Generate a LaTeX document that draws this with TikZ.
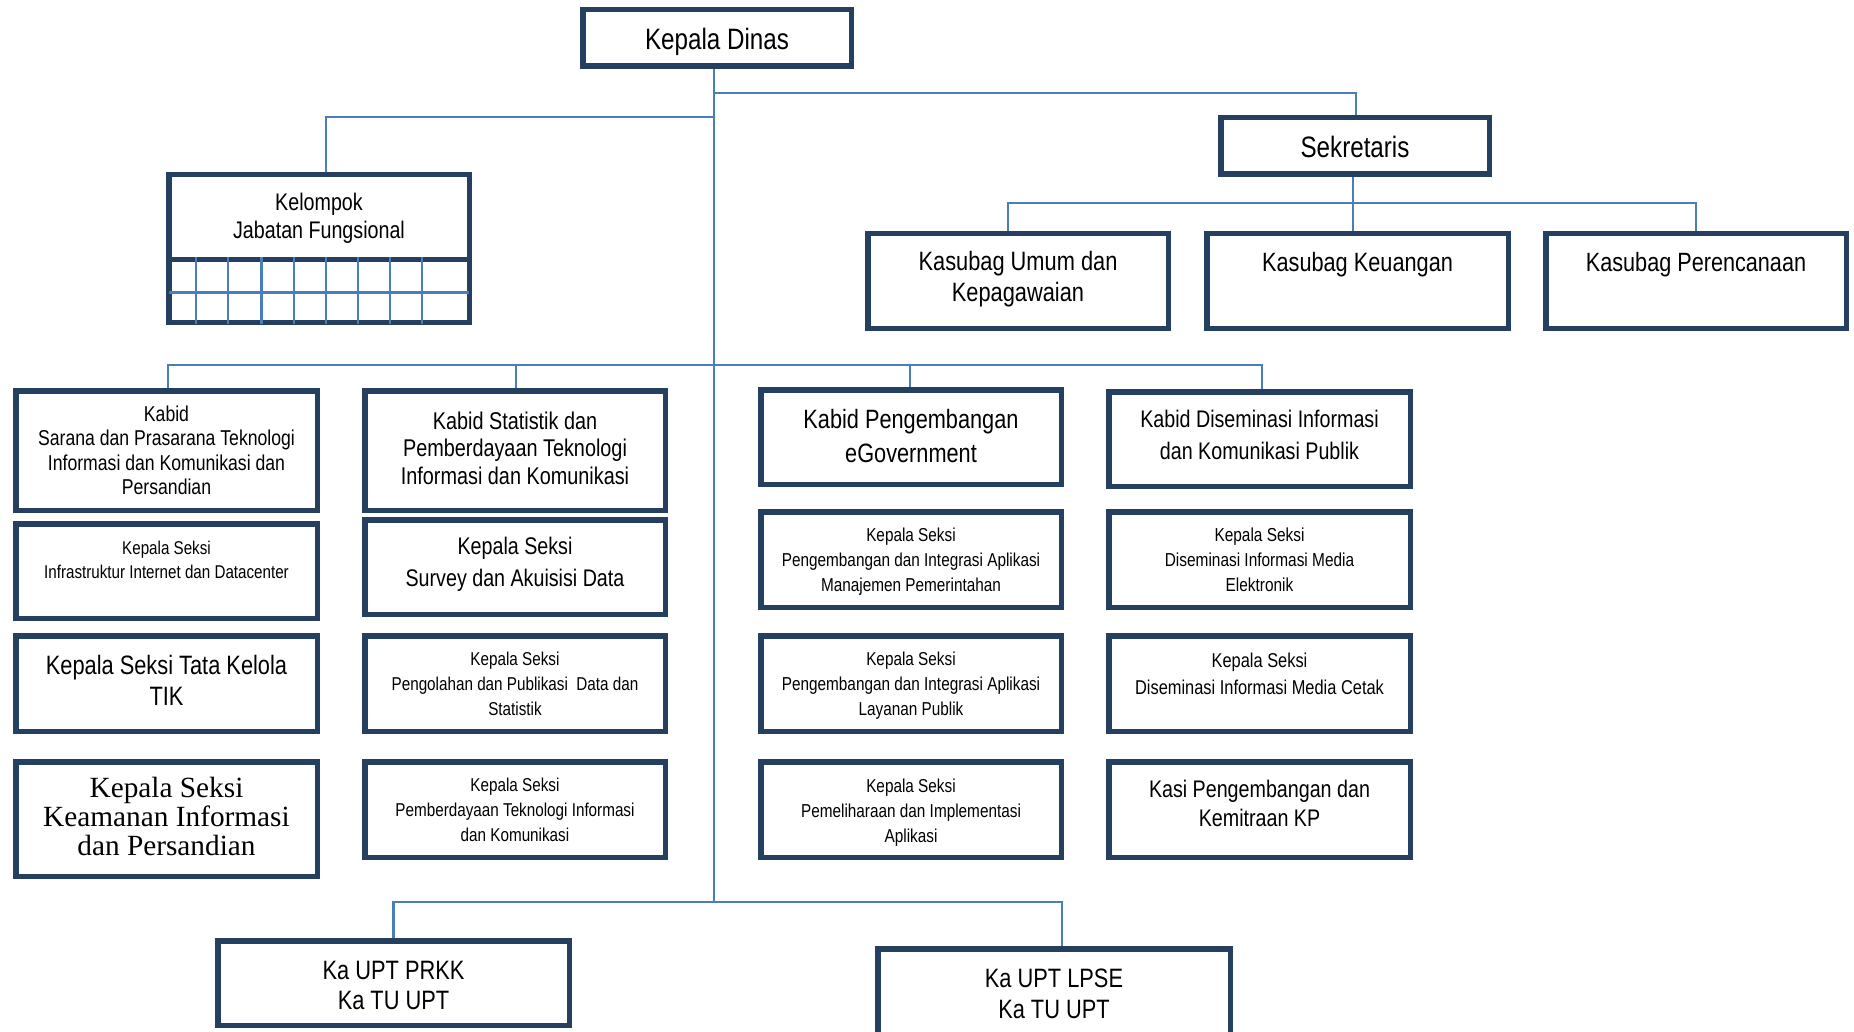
\documentclass[tikz,border=0pt]{standalone}
\usepackage{fontspec}
\setmainfont[FakeStretch=0.82]{Liberation Sans}
\newfontfamily\serifk{Liberation Serif}
\definecolor{boxc}{HTML}{243F60}
\definecolor{linec}{HTML}{4A7EBB}
\newcommand\fs[2]{\fontsize{#1pt}{#2pt}\selectfont}
\begin{document}
\begin{tikzpicture}[x=1pt,y=-1pt,
  box/.style={draw=boxc, line width=5.5pt, fill=white, inner sep=0pt},
  conn/.style={draw=linec, line width=2.3pt},
  txt/.style={align=center, inner sep=0pt, text=black}]
\fill[white] (0,0) rectangle (1854,1032);
\useasboundingbox (0,0) rectangle (1854,1032);
\clip (0,0) rectangle (1854,1032);

% boxes
\node[box, minimum width=268.5pt, minimum height=56.5pt] (kd) at (717,38) {};
\node[box, minimum width=268.5pt, minimum height=56.5pt] (sek) at (1355,146) {};
\node[box, minimum width=300.5pt, minimum height=94.5pt] (kum) at (1018,281) {};
\node[box, minimum width=301.5pt, minimum height=94.5pt] (kke) at (1357.5,281) {};
\node[box, minimum width=300.5pt, minimum height=94.5pt] (kpe) at (1696,281) {};
\node[box, minimum width=300.5pt, minimum height=147.5pt] (kjf) at (319,248.5) {};

\node[box, minimum width=301.5pt, minimum height=119.5pt] (a1) at (166.5,450.5) {};
\node[box, minimum width=301.5pt, minimum height=94.5pt] (a2) at (166.5,571) {};
\node[box, minimum width=301.5pt, minimum height=95.5pt] (a3) at (166.5,683.5) {};
\node[box, minimum width=301.5pt, minimum height=114.5pt] (a4) at (166.5,819) {};

\node[box, minimum width=300.5pt, minimum height=119.5pt] (b1) at (515,450.5) {};
\node[box, minimum width=300.5pt, minimum height=94.5pt] (b2) at (515,567) {};
\node[box, minimum width=300.5pt, minimum height=95.5pt] (b3) at (515,683.5) {};
\node[box, minimum width=300.5pt, minimum height=95.5pt] (b4) at (515,809.5) {};

\node[box, minimum width=300.5pt, minimum height=94.5pt] (c1) at (911,437) {};
\node[box, minimum width=300.5pt, minimum height=95.5pt] (c2) at (911,559.5) {};
\node[box, minimum width=300.5pt, minimum height=95.5pt] (c3) at (911,683.5) {};
\node[box, minimum width=300.5pt, minimum height=95.5pt] (c4) at (911,809.5) {};

\node[box, minimum width=301.5pt, minimum height=94.5pt] (d1) at (1259.5,439) {};
\node[box, minimum width=301.5pt, minimum height=95.5pt] (d2) at (1259.5,559.5) {};
\node[box, minimum width=301.5pt, minimum height=95.5pt] (d3) at (1259.5,683.5) {};
\node[box, minimum width=301.5pt, minimum height=95.5pt] (d4) at (1259.5,809.5) {};

\node[box, minimum width=351.5pt, minimum height=84.5pt] (u1) at (393.5,983) {};
\node[box, minimum width=352.5pt, minimum height=93.5pt] (u2) at (1054,995.5) {};

% connectors
\coordinate (tb) at (714,902);
\coordinate (j1) at (714,92.7);
\coordinate (j2) at (714,117);
\coordinate (m) at (714,365);
\coordinate (s1) at (1353,202.7);
\draw[conn] ([xshift=-3pt]kd.south) -- (tb);
\draw[conn] (j1) -| ([xshift=1pt]sek.north);
\draw[conn] (j2) -| ([xshift=7pt]kjf.north);
\draw[conn] ([xshift=-2pt]sek.south) -- ([xshift=-4.5pt]kke.north);
\draw[conn] (s1) -| ([xshift=-10pt]kum.north);
\draw[conn] (s1) -| (kpe.north);
\draw[conn] (m) -| ([xshift=1.5pt]a1.north);
\draw[conn] (m) -| ([xshift=1pt]b1.north);
\draw[conn] (m) -| ([xshift=-1pt]c1.north);
\draw[conn] (m) -| ([xshift=2.5pt]d1.north);
\draw[conn] (tb) -| (u1.north);
\draw[conn] (tb) -| ([xshift=8pt]u2.north);

% Kelompok inner grid
\draw[boxc, line width=5.5pt] (168.75,259.5) -- (469.25,259.5);
\draw[conn] (169,292.5) -- (469,292.5);
\foreach \gx in {196,228.3,261.6,294.2,326.2,358.2,390.3,422.3}
  \draw[conn] (\gx,257) -- (\gx,324);

% texts
\node[txt, font=\fs{29.5}{34}] (kd-t) at (717,41.4) {Kepala Dinas};
\node[txt, font=\fs{29.5}{34}] (sek-t) at (1355,147) {Sekretaris};
\node[txt, font=\fs{26.6}{30.7}] (kum-t) at (1018,279.1) {Kasubag Umum dan\\Kepagawaian};
\node[txt, font=\fs{26.5}{31}] (kke-t) at (1357.5,264.9) {Kasubag Keuangan};
\node[txt, font=\fs{26.4}{31}] (kpe-t) at (1696,264.9) {Kasubag Perencanaan};
\node[txt, font=\fs{24}{27.2}] (kjf-t) at (319,218.2) {Kelompok\\Jabatan Fungsional};

\node[txt, font=\fs{21.5}{24.5}] (a1-t) at (166.5,450.5) {Kabid\\Sarana dan Prasarana Teknologi\\Informasi dan Komunikasi dan\\Persandian};
\node[txt, font=\fs{18.5}{24.8}] (a2-t) at (166.5,559.9) {Kepala Seksi\\Infrastruktur Internet dan Datacenter};
\node[txt, font=\fs{26.6}{30.7}] (a3-t) at (166.5,680.5) {Kepala Seksi Tata Kelola\\TIK};
\node[txt, font=\serifk\fs{29.3}{29}] (a4-t) at (166.5,816.7) {Kepala Seksi\\Keamanan Informasi\\dan Persandian};

\node[txt, font=\fs{24.2}{27.8}] (b1-t) at (515,448.3) {Kabid Statistik dan\\Pemberdayaan Teknologi\\Informasi dan Komunikasi};
\node[txt, font=\fs{24}{32}] (b2-t) at (515,564.4) {Kepala Seksi\\Survey dan Akuisisi Data};
\node[txt, font=\fs{18.6}{24.8}] (b3-t) at (515,684) {Kepala Seksi\\Pengolahan dan Publikasi\ \ Data dan\\Statistik};
\node[txt, font=\fs{18.6}{24.8}] (b4-t) at (515,810) {Kepala Seksi\\Pemberdayaan Teknologi Informasi\\dan Komunikasi};

\node[txt, font=\fs{26.5}{34.3}] (c1-t) at (911,435.7) {Kabid Pengembangan\\eGovernment};
\node[txt, font=\fs{18.7}{24.8}] (c2-t) at (911,561.7) {Kepala Seksi\\Pengembangan dan Integrasi Aplikasi\\Manajemen Pemerintahan};
\node[txt, font=\fs{18.7}{24.8}] (c3-t) at (911,685.8) {Kepala Seksi\\Pengembangan dan Integrasi Aplikasi\\Layanan Publik};
\node[txt, font=\fs{18.7}{24.8}] (c4-t) at (911,812.4) {Kepala Seksi\\Pemeliharaan dan Implementasi\\Aplikasi};

\node[txt, font=\fs{24}{32}] (d1-t) at (1259.5,434.5) {Kabid Diseminasi Informasi\\dan Komunikasi Publik};
\node[txt, font=\fs{18.8}{24.8}] (d2-t) at (1259.5,559.9) {Kepala Seksi\\Diseminasi Informasi Media\\Elektronik};
\node[txt, font=\fs{20}{27}] (d3-t) at (1259.5,673.4) {Kepala Seksi\\Diseminasi Informasi Media Cetak};
\node[txt, font=\fs{24}{28.4}] (d4-t) at (1259.5,803.4) {Kasi Pengembangan dan\\Kemitraan KP};

\node[txt, font=\fs{26.6}{30.7}] (u1-t) at (393.5,985.6) {Ka UPT PRKK\\Ka TU UPT};
\node[txt, font=\fs{26.6}{31.9}] (u2-t) at (1054,993.8) {Ka UPT LPSE\\Ka TU UPT};
\end{tikzpicture}
\end{document}
